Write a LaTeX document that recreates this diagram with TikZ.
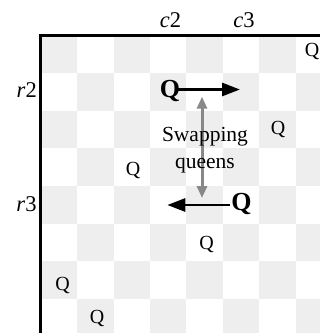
\documentclass[tikz,border=0pt]{standalone}
\usepackage{fontspec}
\setmainfont{Liberation Serif}
\usetikzlibrary{arrows.meta}
\definecolor{sq}{HTML}{EEEEEE}
\definecolor{swapgray}{HTML}{888888}
\begin{document}
\begin{tikzpicture}[x=1pt,y=-1pt,
  queen/.style={font=\fontsize{20}{24}\selectfont, inner sep=0pt, anchor=base},
  bigqueen/.style={font=\fontsize{26}{30}\selectfont\bfseries, inner sep=0pt, anchor=base},
  lbl/.style={font=\fontsize{22.5}{26}\selectfont, inner sep=0pt},
  swaptext/.style={font=\fontsize{21.5}{27}\selectfont, inner sep=0pt, align=center},
  movearrow/.style={line width=2.8pt, -{Triangle[length=18pt,width=13pt]}},
  swaparrow/.style={draw=swapgray, line width=3pt, {Triangle[length=12pt,width=10pt]}-{Triangle[length=12pt,width=10pt]}},
  border/.style={line width=2.5pt}]
\useasboundingbox (0,0) rectangle (320,333);
\begin{scope}
\clip (0,0) rectangle (320,333);
\foreach \r in {0,...,7}{
  \foreach \c in {0,...,7}{
    \pgfmathtruncatemacro\parity{mod(\r+\c,2)}
    \ifnum\parity=0
      \fill[sq] (40.8+36.4*\c, 35.5+37.6*\r) rectangle ++(36.4,37.6);
    \fi
  }
}
\draw[border] (40.3,340) -- (40.3,35.3) -- (330,35.3);

% swap arrow (behind text)
\coordinate (sTop) at (202,96.7);
\coordinate (sBot) at (202,198);
\draw[swaparrow] (sTop) -- (sBot);
\node[swaptext] (swap) at (205,150.3) {Swapping\\queens};

% queens
\node[queen] (q0) at (312,56) {Q};
\node[queen] (q2) at (278,134) {Q};
\node[queen] (q3) at (133,175) {Q};
\node[queen] (q5) at (206.5,249.5) {Q};
\node[queen] (q6) at (62.5,290) {Q};
\node[queen] (q7) at (97,323) {Q};

% swapped queens
\node[bigqueen] (qa) at (170,97.5) {Q};
\node[bigqueen] (qb) at (241.5,210.6) {Q};
\coordinate (qaT) at (240,89.5);
\coordinate (qbT) at (167.3,205);
\draw[movearrow] ([xshift=5pt]qa.center |- qaT) -- (qaT);
\draw[movearrow] ([xshift=-12pt]qb.center |- qbT) -- (qbT);
\end{scope}

% labels
\node[lbl, anchor=base] (c2) at (170.5,27) {\textit{c}2};
\node[lbl, anchor=base] (c3) at (244,27) {\textit{c}3};
\node[lbl, anchor=base east] (r2) at (37,97.5) {\textit{r}2};
\node[lbl, anchor=base east] (r3) at (36.7,211) {\textit{r}3};
\end{tikzpicture}
\end{document}
